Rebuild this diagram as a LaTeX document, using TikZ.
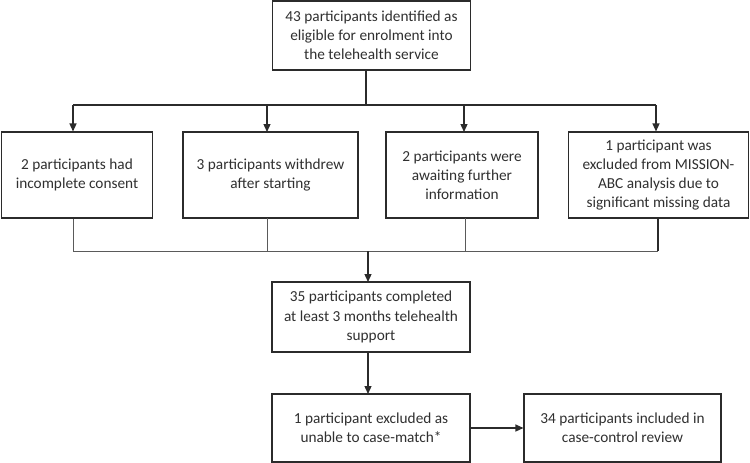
\documentclass[tikz,border=0pt]{standalone}
\usepackage{fontspec}
\setmainfont{Carlito}
\usetikzlibrary{arrows.meta}
\definecolor{boxline}{HTML}{2B2B2B}
\definecolor{thinline}{HTML}{5A5A5A}
\definecolor{txt}{HTML}{303030}
\tikzset{
  x=1pt, y=-1pt,
  box/.style={draw=boxline, line width=1.1pt, fill=white, align=center, inner sep=0pt,
    font=\fontsize{15.3}{19.2}\selectfont, text=txt},
  arr/.style={draw=boxline, line width=1.3pt, -{Triangle[length=8pt,width=7pt]}},
  plain/.style={draw=boxline, line width=1.1pt},
  thin/.style={draw=thinline, line width=0.7pt},
}
\begin{document}
\begin{tikzpicture}
\useasboundingbox (0,0) rectangle (750,463);
% top
\node[box, minimum width=198pt, minimum height=69pt] (top) at (371.5,35.5) {43 participants identified as\\eligible for enrolment into\\the telehealth service};
% row
\node[box, minimum width=151pt, minimum height=86pt] (b1) at (77,175) {2 participants had\\incomplete consent};
\node[box, minimum width=175pt, minimum height=86pt] (b2) at (270.5,175) {3 participants withdrew\\after starting};
\node[box, minimum width=152pt, minimum height=86pt] (b3) at (462,175) {2 participants were\\awaiting further\\information};
\node[box, minimum width=180pt, minimum height=86pt] (b4) at (658.5,175) {1 participant was\\excluded from MISSION-\\ABC analysis due to\\significant missing data};
% middle
\node[box, minimum width=198pt, minimum height=70pt] (mid) at (371,317) {35 participants completed\\at least 3 months telehealth\\support};
% bottom
\node[box, minimum width=198pt, minimum height=68pt] (ex) at (371,428) {1 participant excluded as\\unable to case-match*};
\node[box, minimum width=197pt, minimum height=68pt] (inc) at (622.5,428) {34 participants included in\\case-control review};
% split line
\coordinate (split) at (366,105);
\coordinate (sL) at (73,105);
\coordinate (sR) at (656,105);
\draw[plain] (top.south -| split) -- (split);
\draw[plain] (sL) -- (sR);
\draw[arr] (sL) -- (sL |- b1.north);
\draw[arr] (267,105) -- (267,132);
\draw[arr] (464,105) -- (464,132);
\draw[arr] (sR) -- (sR |- b4.north);
% merge line
\coordinate (mL) at (73,251);
\coordinate (mR) at (658,251);
\coordinate (m2) at (267,251);
\coordinate (m3) at (465,251);
\draw[thin] (b1.south -| mL) -- (mL);
\draw[thin] (267,218) -- (m2);
\draw[thin] (465,218) -- (m3);
\draw[plain] (658,218) -- (mR);
\draw[thin] (mL) -- (mR);
\draw[arr] (368,251) -- (368,282);
\draw[arr] (368,352) -- (368,394);
\draw[arr] (ex.east) -- (inc.west);
\end{tikzpicture}
\end{document}
